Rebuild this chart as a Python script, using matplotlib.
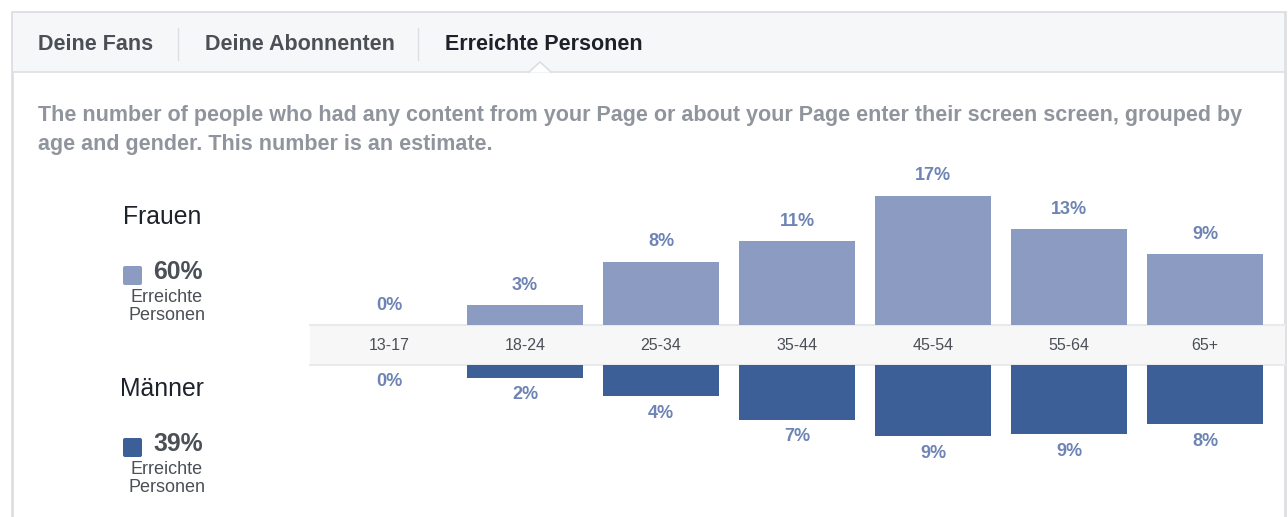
import matplotlib
matplotlib.use('Agg')
import matplotlib.pyplot as plt
from matplotlib.patches import Rectangle, Polygon, FancyBboxPatch

""" DATA """
AGE_GROUPS = ['13-17', '18-24', '25-34', '35-44', '45-54', '55-64', '65+']
WOMEN = [0, 2.6, 8.3, 11.0, 17.0, 12.6, 9.3]
MEN = [0, 1.7, 4.1, 7.2, 9.4, 9.1, 7.8]
TABS = ['Deine Fans', 'Deine Abonnenten', 'Erreichte Personen']
WOMEN_TOTAL = 60
MEN_TOTAL = 39
DESCRIPTION = ('The number of people who had any content from your Page or about your Page '
               'enter their screen screen, grouped by\nage and gender. This number is an estimate.')

""" STYLE """
W, H = 1288, 517
LIGHT = '#8b9bc2'
DARK = '#3b5f96'
LABEL = '#6d84b4'
GREY_TXT = '#90949c'
DARK_TXT = '#1d2129'
MID_TXT = '#4b4f56'
BORDER = '#dddfe2'
PX_PER_PCT = 7.6

plt.rcParams['font.family'] = ['Liberation Sans', 'DejaVu Sans']

fig = plt.figure(figsize=(W / 100, H / 100), dpi=100)
bg = fig.add_axes([0, 0, 1, 1])
bg.set_xlim(0, W)
bg.set_ylim(H, 0)
bg.axis('off')

# panel + tab bar
bg.add_patch(Rectangle((12, 12), 1273, 520, facecolor='white', edgecolor=BORDER, lw=2))
bg.add_patch(Rectangle((13, 13), 1271, 59, facecolor='#f6f7f9', edgecolor='none'))
bg.plot([13, 1284], [72, 72], color=BORDER, lw=1.2)
bg.add_patch(Polygon([[529, 72.6], [540, 62], [551, 72.6]], closed=True,
                     facecolor='white', edgecolor='none', zorder=3))
bg.plot([529, 540, 551], [72, 62, 72], color=BORDER, lw=1.2, zorder=4)
for xs in [178, 418]:
    bg.plot([xs, xs], [28, 60], color=BORDER, lw=1)
tab_x = [38, 205, 445]
for i, t in enumerate(TABS):
    active = i == len(TABS) - 1
    bg.text(tab_x[i], 45, t, fontsize=15.5, fontweight='bold',
            color=DARK_TXT if active else MID_TXT, va='center', ha='left')

bg.text(38, 130, DESCRIPTION, fontsize=15.5, fontweight='bold', color=GREY_TXT,
        va='center', ha='left', linespacing=1.55)

# legend on the left
legend = [('Frauen', WOMEN_TOTAL, LIGHT, 217), ('Männer', MEN_TOTAL, DARK, 389)]
for name, total, col, y0 in legend:
    bg.text(162, y0, name, fontsize=17.8, color=DARK_TXT, ha='center', va='center')
    bg.add_patch(FancyBboxPatch((123, y0 + 49), 19, 19, boxstyle='round,pad=0,rounding_size=2',
                                facecolor=col, edgecolor='none'))
    bg.text(153, y0 + 55, f'{total}%', fontsize=17.8, fontweight='bold', color=MID_TXT,
            ha='left', va='center')
    bg.text(167, y0 + 80, 'Erreichte', fontsize=13, color=MID_TXT, ha='center', va='center')
    bg.text(167, y0 + 99, 'Personen', fontsize=13, color=MID_TXT, ha='center', va='center')

# age band
bg.add_patch(Rectangle((310, 325), 975, 40, facecolor='#f7f7f7', edgecolor='none'))
bg.plot([310, 1285], [325, 325], color='#e9eaed', lw=1.5)
bg.plot([310, 1285], [365, 365], color='#e9eaed', lw=1.5)

# bar axes: x data coords so that centers land at 389 + 136*i
x_left = (310 - 389) / 136
x_right = (1285 - 389) / 136
x = list(range(len(AGE_GROUPS)))


def bar_axes(top_px, bottom_px):
    ax = fig.add_axes([310 / W, (H - bottom_px) / H, 975 / W, (bottom_px - top_px) / H])
    ax.set_xlim(x_left, x_right)
    ax.set_ylim(0, (bottom_px - top_px) / PX_PER_PCT)
    ax.axis('off')
    ax.patch.set_alpha(0)
    return ax


ax_top = bar_axes(150, 325)
ax_bot = bar_axes(365, 505)
ax_bot.invert_yaxis()

ax_top.bar(x, WOMEN, width=0.853, color=LIGHT)
ax_bot.bar(x, MEN, width=0.853, color=DARK)
for i in x:
    ax_top.text(i, WOMEN[i] + 20 / PX_PER_PCT, f'{round(WOMEN[i])}%', ha='center', va='center',
                fontsize=13, fontweight='bold', color=LABEL)
    ax_bot.text(i, MEN[i] + 17 / PX_PER_PCT, f'{round(MEN[i])}%', ha='center', va='center',
                fontsize=13, fontweight='bold', color=LABEL)
    bg.text(389 + 136 * i, 345, AGE_GROUPS[i], ha='center', va='center', fontsize=11.5, color=MID_TXT)

fig.savefig('out.png', dpi=100)
